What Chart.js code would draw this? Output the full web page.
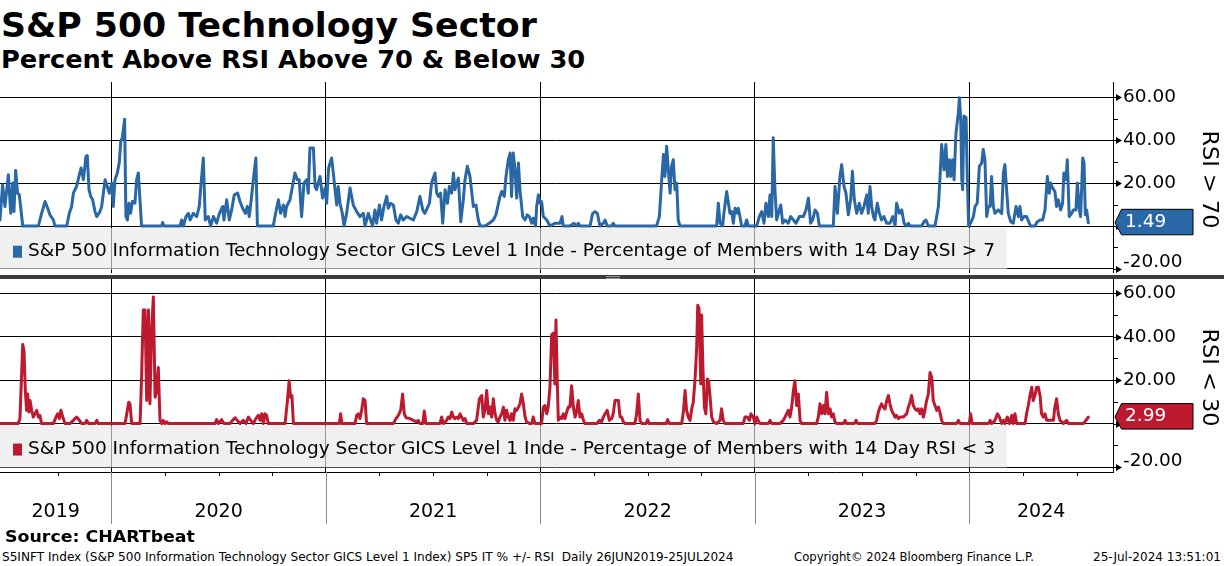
<!DOCTYPE html>
<html>
<head>
<meta charset="utf-8">
<script src="https://cdn.jsdelivr.net/npm/chart.js@4.4.1/dist/chart.umd.min.js"></script>
<style>
  html, body { margin: 0; padding: 0; background: #fff; }
  body { width: 1224px; height: 566px; position: relative; overflow: hidden; font-family: "DejaVu Sans", sans-serif; color: #000; }
  .txt { position: absolute; white-space: pre; transform-origin: 0 0; line-height: 1; }
  canvas { position: absolute; left: 0; }
</style>
</head>
<body>
<div class="txt" data-w="536" style="left:1px; top:8px; font-size:34px; font-weight:bold;">S&amp;P 500 Technology Sector</div>
<div class="txt" data-w="584" style="left:1px; top:47px; font-size:25px; font-weight:bold;">Percent Above RSI Above 70 &amp; Below 30</div>

<canvas id="topChart" width="1224" height="191" style="top:82px"></canvas>
<div style="position:absolute; left:0; top:275px; width:1224px; height:4px; background:#3c3c3c;"></div>
<div style="position:absolute; left:606px; top:276px; width:14px; height:1px; background:#9a9a9a;"></div>
<div style="position:absolute; left:606px; top:278px; width:14px; height:1px; background:#9a9a9a;"></div>
<canvas id="bottomChart" width="1224" height="250" style="top:279px"></canvas>

<div class="txt" data-w="190" style="left:5px; top:529px; font-size:16px; font-weight:bold;">Source: CHARTbeat</div>
<div class="txt" data-w="731" style="left:2px; top:552px; font-size:11.5px;">S5INFT Index (S&amp;P 500 Information Technology Sector GICS Level 1 Index) SP5 IT % +/- RSI  Daily 26JUN2019-25JUL2024</div>
<div class="txt" data-w="240" style="left:794px; top:552px; font-size:11.5px;">Copyright© 2024 Bloomberg Finance L.P.</div>
<div class="txt" data-w="128" style="left:1093px; top:552px; font-size:11.5px;">25-Jul-2024 13:51:01</div>

<script>
// % of members with 14 day RSI > 70, [decimal year, percent]
const rsiAbove70 = [
  [2019.481,2.8],[2019.493,19.2],[2019.504,9.1],[2019.520,23.9],[2019.531,5.9],[2019.540,20.0],[2019.546,6.7],[2019.554,25.9],
  [2019.563,15.3],[2019.571,14.5],[2019.577,9.1],[2019.587,0],[2019.660,0],[2019.675,5.9],[2019.691,11.4],[2019.706,7.5],
  [2019.714,5.2],[2019.730,2.8],[2019.737,0],[2019.792,0],[2019.804,5.9],[2019.815,9.1],[2019.823,15.3],[2019.838,18.4],
  [2019.851,23.9],[2019.859,27.0],[2019.870,21.6],[2019.882,32.5],[2019.888,32.8],[2019.896,16.9],[2019.904,13.8],[2019.913,12.2],
  [2019.924,6.7],[2019.932,4.4],[2019.947,6.7],[2019.955,9.1],[2019.971,21.6],[2019.981,18.4],[2019.991,15.3],[2020.002,20.0],
  [2020.009,9.1],[2020.017,21.6],[2020.028,24.7],[2020.037,29.4],[2020.044,39.5],[2020.051,41.1],[2020.062,49.7],[2020.068,4.4],
  [2020.075,2.8],[2020.082,10.6],[2020.090,5.9],[2020.098,11.4],[2020.110,10.6],[2020.118,21.6],[2020.126,24.7],[2020.141,0],
  [2020.235,0],[2020.239,1.6],[2020.246,0],[2020.320,0],[2020.328,2.8],[2020.336,0],[2020.348,4.4],[2020.359,5.9],
  [2020.367,2.8],[2020.382,5.9],[2020.398,4.4],[2020.410,9.1],[2020.417,18.4],[2020.429,31.7],[2020.438,2.8],[2020.452,4.4],
  [2020.463,0],[2020.476,4.4],[2020.491,1.3],[2020.504,5.9],[2020.519,9.1],[2020.525,2.8],[2020.538,12.2],[2020.550,2.8],
  [2020.561,7.5],[2020.573,14.5],[2020.589,15.3],[2020.600,11.4],[2020.612,8.3],[2020.625,5.9],[2020.634,9.1],[2020.643,4.4],
  [2020.654,13.8],[2020.662,21.6],[2020.674,31.7],[2020.681,0],[2020.755,0],[2020.763,4.4],[2020.779,12.2],[2020.789,5.9],
  [2020.802,9.8],[2020.810,4.4],[2020.817,9.1],[2020.833,12.2],[2020.856,24.7],[2020.867,21.6],[2020.876,21.6],[2020.887,4.4],
  [2020.898,20.0],[2020.911,21.6],[2020.918,15.3],[2020.926,36.4],[2020.942,36.4],[2020.950,18.4],[2020.957,16.9],[2020.973,23.1],
  [2020.985,13.0],[2020.996,17.7],[2021.004,10.6],[2021.013,27.0],[2021.027,31.7],[2021.035,24.7],[2021.043,16.9],[2021.051,9.8],
  [2021.058,18.4],[2021.066,10.6],[2021.077,5.9],[2021.085,0],[2021.097,5.9],[2021.113,17.7],[2021.128,9.8],[2021.144,6.7],
  [2021.159,4.4],[2021.175,5.9],[2021.183,0],[2021.198,5.9],
  [2021.218,0],[2021.229,7.5],[2021.237,1.3],[2021.250,9.8],[2021.260,2.8],[2021.271,9.1],[2021.284,13.8],[2021.291,8.3],
  [2021.302,10.6],[2021.315,9.8],[2021.327,2.8],[2021.338,1.3],[2021.349,5.2],[2021.361,2.8],[2021.377,4.4],[2021.392,3.6],
  [2021.408,2.8],[2021.424,6.7],[2021.439,13.8],[2021.452,7.5],[2021.462,5.9],[2021.483,10.6],[2021.493,20.0],[2021.509,24.7],
  [2021.517,15.3],[2021.525,13.8],[2021.535,15.3],[2021.545,1.3],[2021.556,16.9],[2021.567,10.6],[2021.576,18.4],[2021.587,15.3],
  [2021.595,24.7],[2021.602,16.9],[2021.618,22.3],[2021.629,2.0],[2021.641,12.2],[2021.649,21.6],[2021.660,27.8],[2021.672,23.1],
  [2021.688,9.1],[2021.700,9.8],[2021.711,2.8],[2021.719,0],[2021.742,0],[2021.762,1.3],[2021.781,2.8],[2021.793,5.2],
  [2021.812,13.8],[2021.820,16.1],[2021.832,13.8],[2021.840,23.1],[2021.851,30.9],[2021.859,34.0],[2021.866,13.8],[2021.874,34.0],
  [2021.882,26.2],[2021.890,13.0],[2021.898,29.4],[2021.905,16.9],[2021.918,4.4],[2021.929,2.8],[2021.939,5.2],[2021.949,4.4],
  [2021.960,1.3],[2021.967,3.6],[2021.978,0],[2021.983,9.1],[2021.991,14.5],[2021.999,10.6],[2022.006,11.4],[2022.014,4.4],
  [2022.030,2.8],[2022.045,0],[2022.068,1.3],[2022.092,1.3],[2022.101,4.4],[2022.107,0],[2022.138,0],[2022.157,1.3],
  [2022.169,0],[2022.177,1.3],[2022.185,0],[2022.232,0],[2022.244,5.9],[2022.255,6.7],[2022.266,5.9],[2022.278,0],
  [2022.294,1.3],[2022.302,2.8],[2022.312,0],[2022.333,0],[2022.340,1.3],[2022.348,0],[2022.542,0],[2022.555,4.4],
  [2022.566,21.6],[2022.574,33.3],[2022.581,23.1],[2022.589,37.2],[2022.597,26.2],[2022.605,15.3],[2022.612,27.8],[2022.620,30.9],
  [2022.628,16.9],[2022.636,20.0],[2022.643,2.8],[2022.651,0],[2022.822,0],[2022.830,10.6],[2022.838,1.3],[2022.850,0],
  [2022.856,5.9],[2022.869,16.1],[2022.877,10.6],[2022.884,5.9],[2022.892,6.7],[2022.900,1.3],[2022.908,8.3],[2022.915,5.9],
  [2022.923,8.3],
  [2022.939,0],[2022.954,0],[2022.962,2.8],[2022.970,0],[2023.009,0],[2023.021,4.4],[2023.032,6.7],[2023.043,1.3],
  [2023.052,10.6],[2023.063,4.4],[2023.071,14.5],[2023.079,4.4],[2023.086,41.1],[2023.094,16.9],[2023.102,2.8],[2023.110,5.9],
  [2023.121,9.8],[2023.130,1.3],[2023.141,2.8],[2023.156,1.3],[2023.167,4.4],[2023.180,2.8],[2023.192,1.3],[2023.208,4.4],
  [2023.226,4.4],[2023.239,7.5],[2023.250,13.0],[2023.260,1.3],[2023.270,2.8],[2023.281,7.5],[2023.292,5.9],[2023.301,0],
  [2023.366,0],[2023.374,18.4],[2023.385,5.9],[2023.397,23.1],[2023.405,28.6],[2023.416,18.4],[2023.425,15.3],[2023.436,5.2],
  [2023.447,12.2],[2023.455,25.5],[2023.464,12.2],[2023.475,5.9],[2023.487,10.6],[2023.498,5.9],[2023.509,9.1],[2023.522,14.5],
  [2023.529,5.9],[2023.537,18.4],[2023.545,9.1],[2023.553,4.4],[2023.560,2.8],[2023.571,10.6],[2023.581,5.9],[2023.591,2.8],
  [2023.602,4.4],[2023.615,1.3],[2023.630,1.3],[2023.643,4.4],[2023.654,0],[2023.661,10.6],[2023.674,5.9],[2023.685,7.5],
  [2023.696,1.3],[2023.708,0],[2023.716,1.3],[2023.724,0],[2023.778,0],[2023.789,2.0],[2023.798,2.8],[2023.809,0],
  [2023.840,0],[2023.848,4.4],[2023.856,9.1],[2023.863,21.6],[2023.871,38.0],[2023.882,26.2],[2023.891,38.0],[2023.898,23.1],
  [2023.907,30.9],[2023.913,23.1],[2023.922,30.9],[2023.929,21.6],[2023.938,43.4],[2023.949,52.8],[2023.954,59.8],[2023.960,49.7],
  [2023.965,21.6],[2023.969,16.9],[2023.975,51.3],[2023.985,50.5],[2023.991,21.6],[2023.997,0],[2024.006,1.3],[2024.019,4.4],
  [2024.027,9.1],[2024.037,10.6],[2024.047,27.8],[2024.058,29.4],[2024.065,35.6],[2024.073,30.9],[2024.081,4.4],[2024.089,9.1],
  [2024.097,9.1],[2024.104,23.1],[2024.112,9.1],[2024.120,5.9],[2024.135,7.5],[2024.151,5.9],[2024.159,24.7],[2024.166,28.6],
  [2024.174,16.9],[2024.182,5.9],[2024.193,2.0],[2024.205,1.3],[2024.218,9.1],[2024.229,4.4],[2024.236,9.1],[2024.244,2.8],
  [2024.255,4.4],[2024.267,4.4],[2024.280,1.3],[2024.286,0],[2024.306,0],[2024.317,2.0],[2024.330,2.8],[2024.342,2.8],
  [2024.353,7.5],[2024.364,23.1],[2024.373,15.3],[2024.379,20.0],[2024.389,17.7],[2024.399,16.1],[2024.407,9.1],[2024.415,12.2],
  [2024.426,7.5],[2024.435,10.6],[2024.441,24.7],[2024.451,21.6],[2024.457,30.9],[2024.466,4.4],[2024.477,5.9],[2024.485,7.5],
  [2024.497,7.5],[2024.504,20.0],[2024.513,7.5],[2024.519,4.4],[2024.529,31.7],[2024.535,29.4],[2024.541,5.2],[2024.547,7.5],
  [2024.555,1.49]
];

// % of members with 14 day RSI < 30, [decimal year, percent]
const rsiBelow30 = [
  [2019.481,0],[2019.566,0],[2019.574,2.3],[2019.587,36.4],[2019.593,33.3],[2019.599,15.2],[2019.605,6.1],[2019.610,13.6],
  [2019.616,5.3],[2019.621,10.6],[2019.629,6.1],[2019.636,3.0],[2019.644,4.5],[2019.652,6.1],[2019.660,3.0],[2019.667,3.8],
  [2019.675,0],[2019.730,0],[2019.742,3.0],[2019.750,4.5],[2019.758,2.3],[2019.765,6.1],[2019.776,2.3],[2019.784,0],
  [2019.807,0],[2019.823,1.5],[2019.838,3.0],[2019.851,1.5],[2019.862,0],[2019.877,0],[2019.885,1.5],[2019.893,0],
  [2019.924,0],[2019.932,1.5],[2019.939,0],[2020.064,0],[2020.072,4.5],[2020.081,9.8],[2020.087,9.1],[2020.095,0],
  [2020.134,0],[2020.141,21.2],[2020.149,52.3],[2020.157,52.3],[2020.165,10.6],[2020.173,52.3],[2020.180,9.1],[2020.188,43.9],
  [2020.196,58.3],[2020.204,12.1],[2020.211,15.2],[2020.219,25.8],[2020.227,1.5],[2020.235,0],[2020.242,1.5],[2020.250,0],
  [2020.258,0.8],[2020.266,0],[2020.483,0],[2020.491,1.8],[2020.499,0],[2020.514,1.8],[2020.525,0],[2020.553,0],
  [2020.566,1.5],[2020.577,2.7],[2020.587,1.5],[2020.600,0],[2020.615,1.5],[2020.628,0],[2020.639,3.0],[2020.650,1.5],
  [2020.662,0],[2020.674,2.3],[2020.685,3.8],[2020.693,1.5],[2020.701,4.5],[2020.709,0],[2020.716,4.5],[2020.724,3.8],
  [2020.732,0],[2020.810,0],[2020.821,10.6],[2020.829,19.7],[2020.836,12.1],[2020.842,12.9],[2020.849,0],[2021.063,0],
  [2021.069,4.5],[2021.075,0],[2021.136,0],[2021.144,3.8],[2021.152,4.5],[2021.159,2.3],[2021.167,6.1],[2021.175,11.4],
  [2021.183,10.6],[2021.190,0],
  [2021.315,0],[2021.327,2.3],[2021.338,3.8],[2021.349,6.1],[2021.358,13.6],[2021.366,4.5],[2021.374,2.7],[2021.392,2.3],
  [2021.408,1.5],[2021.424,0.8],[2021.431,1.5],[2021.439,0],[2021.452,0],[2021.459,5.8],[2021.467,0],[2021.532,0],
  [2021.540,3.0],[2021.548,0],[2021.563,1.5],[2021.571,3.0],[2021.579,2.3],[2021.587,5.3],[2021.595,3.0],[2021.602,2.3],
  [2021.610,3.0],[2021.618,2.3],[2021.626,4.5],[2021.633,3.0],[2021.641,1.5],[2021.649,2.3],[2021.657,0],[2021.688,0],
  [2021.703,1.5],[2021.716,11.4],[2021.727,12.9],[2021.734,3.0],[2021.742,6.1],[2021.750,15.2],[2021.758,4.5],[2021.765,7.6],
  [2021.773,3.0],[2021.781,11.4],[2021.789,4.5],[2021.797,1.5],[2021.804,0.8],[2021.812,3.0],[2021.820,4.5],[2021.828,7.6],
  [2021.835,1.5],[2021.843,6.1],[2021.851,3.0],[2021.859,1.5],[2021.866,4.5],[2021.874,1.5],[2021.882,6.8],[2021.890,6.1],
  [2021.898,7.6],[2021.905,9.1],[2021.913,13.6],[2021.921,9.1],[2021.929,3.0],[2021.936,0.8],[2021.949,0],[2021.960,0],
  [2021.967,3.0],[2021.975,0],[2022.006,0],[2022.014,7.6],[2022.022,8.3],[2022.030,4.5],[2022.037,7.6],[2022.045,16.7],
  [2022.053,40.9],[2022.061,41.7],[2022.068,18.2],[2022.073,47.7],[2022.079,19.7],[2022.084,1.5],[2022.092,3.0],[2022.100,2.3],
  [2022.107,4.5],[2022.115,2.3],[2022.123,5.3],[2022.131,7.6],[2022.138,7.6],[2022.146,17.4],[2022.154,7.6],[2022.162,3.0],
  [2022.169,5.3],[2022.177,10.6],[2022.185,3.0],[2022.193,4.5],[2022.201,1.5],[2022.208,0],[2022.263,0],[2022.275,1.5],
  [2022.286,0.8],[2022.294,3.0],[2022.302,4.5],[2022.312,6.1],[2022.322,1.5],[2022.333,2.3],[2022.340,4.5],[2022.348,10.6],
  [2022.356,10.6],[2022.364,10.6],[2022.372,3.0],[2022.379,3.0],[2022.387,0.8],[2022.395,0],[2022.441,0],[2022.449,4.5],
  [2022.457,13.6],[2022.465,1.5],[2022.473,0],[2022.493,0],[2022.500,1.8],[2022.508,0],[2022.586,0],[2022.594,1.8],
  [2022.601,0],[2022.659,0],[2022.667,5.3],[2022.675,15.2],[2022.682,6.1],[2022.690,3.0],[2022.698,1.5],[2022.706,6.8],
  [2022.713,9.8],[2022.721,19.7],[2022.729,34.8],[2022.734,54.5],[2022.740,53.0],[2022.748,18.2],[2022.752,50.0],[2022.758,25.8],
  [2022.765,7.6],[2022.772,4.5],[2022.779,20.5],[2022.785,19.7],[2022.791,12.9],[2022.799,3.0],[2022.807,0.8],[2022.822,0],
  [2022.838,1.5],[2022.845,6.8],[2022.853,1.5],[2022.861,0],[2022.946,0],
  [2022.954,3.0],[2022.965,3.0],[2022.975,1.5],[2022.982,4.5],[2022.993,3.0],[2023.001,0],[2023.009,3.0],[2023.016,1.5],
  [2023.024,0],[2023.063,0],[2023.071,1.5],[2023.079,0],[2023.117,0],[2023.133,1.5],[2023.149,4.5],[2023.156,6.1],
  [2023.164,3.0],[2023.172,7.6],[2023.180,15.2],[2023.187,19.7],[2023.195,8.3],[2023.203,13.6],[2023.211,1.5],[2023.218,0],
  [2023.288,0],[2023.296,3.0],[2023.304,9.1],[2023.312,4.5],[2023.320,8.3],[2023.327,4.5],[2023.335,14.4],[2023.343,4.5],
  [2023.351,6.8],[2023.358,3.0],[2023.366,4.5],[2023.374,0.8],[2023.382,0],[2023.413,0],[2023.421,1.5],[2023.428,0],
  [2023.464,0],[2023.472,1.5],[2023.480,0],[2023.560,0],[2023.568,1.5],[2023.576,5.3],[2023.584,7.6],[2023.591,9.1],
  [2023.599,7.6],[2023.607,6.8],[2023.615,10.6],[2023.623,12.9],[2023.630,9.1],[2023.638,6.1],[2023.646,4.5],[2023.654,3.0],
  [2023.661,3.8],[2023.669,2.3],[2023.677,3.0],[2023.692,3.0],[2023.700,3.8],[2023.708,4.5],[2023.716,7.6],[2023.724,9.8],
  [2023.731,12.9],[2023.739,8.3],[2023.747,6.8],[2023.755,6.1],[2023.762,6.8],[2023.770,4.5],[2023.778,6.8],[2023.786,3.0],
  [2023.793,6.1],[2023.801,10.6],[2023.809,13.6],[2023.817,23.5],[2023.825,21.2],[2023.832,10.6],[2023.840,8.3],[2023.848,6.1],
  [2023.856,7.6],[2023.863,5.3],[2023.871,1.5],[2023.879,0],[2023.941,0],[2023.949,1.5],[2023.957,0],[2024.000,0],
  [2024.006,4.5],[2024.013,0],[2024.089,0],[2024.097,1.5],[2024.104,0],[2024.120,1.5],[2024.131,4.5],[2024.140,3.0],
  [2024.151,0],[2024.159,1.5],[2024.166,0],[2024.177,3.0],[2024.187,0],[2024.198,3.8],[2024.205,0],[2024.213,4.5],
  [2024.221,0],[2024.260,0],[2024.267,4.5],[2024.275,8.3],[2024.283,12.9],[2024.291,16.7],[2024.298,10.6],[2024.306,12.9],
  [2024.314,16.7],[2024.322,16.7],[2024.330,12.9],[2024.337,4.5],[2024.345,3.0],[2024.353,4.5],[2024.361,1.5],[2024.392,1.5],
  [2024.399,7.6],[2024.407,11.4],[2024.415,4.5],[2024.423,1.5],[2024.431,0.8],[2024.438,0],[2024.446,0.8],[2024.454,1.5],
  [2024.462,0],[2024.532,0],[2024.544,1.5],[2024.555,2.99]
];

const yearLabels = ["2019", "2020", "2021", "2022", "2023", "2024"];
const yearBounds = [2020, 2021, 2022, 2023, 2024];
const yTickValues = [-20, -10, 0, 10, 20, 30, 40, 50, 60];
const lastValues = { above: 1.49, below: 2.99 };

const X_MIN = 2019.481;
const X_MAX = 2024.67;
const BLUE = "#2a67a5";
const RED = "#bd1a30";

// label sits in the middle of each (clipped) calendar year
const edges = [X_MIN, ...yearBounds, X_MAX];
const labelPositions = yearLabels.map((_, i) => (edges[i] + edges[i + 1]) / 2);
const yearLabelAt = new Map(labelPositions.map((p, i) => [p, yearLabels[i]]));

const quarterTicks = [];
for (let yr = 2019; yr <= 2024; yr++) {
  [0.25, 0.5, 0.75].forEach((q) => {
    if (yr + q > X_MIN + 0.1 && yr + q < X_MAX) quarterTicks.push(yr + q);
  });
}

function fitText(ctx, text, x, y, width) {
  const w = ctx.measureText(text).width;
  ctx.save();
  ctx.translate(x, y);
  ctx.scale(width / w, 1);
  ctx.fillText(text, 0, 0);
  ctx.restore();
}

function panelDecor(cfg) {
  return {
    id: "panelDecor",
    afterDatasetsDraw(chart) {
      const { ctx } = chart;
      const y = chart.scales.y;
      const top = y.getPixelForValue(0) + 2;
      const bottom = y.getPixelForValue(-20) + 0.5;
      const cy = (top + bottom) / 2 + 3;

      ctx.save();
      ctx.fillStyle = "rgba(232, 232, 232, 0.65)";
      ctx.fillRect(0, top, 1007, bottom - top);
      ctx.fillStyle = cfg.color;
      ctx.fillRect(13, cy - 6, 9, 12);
      ctx.fillStyle = "#000";
      ctx.font = '17.5px "DejaVu Sans"';
      ctx.textBaseline = "middle";
      fitText(ctx, cfg.legend, 28, cy, 967);
      ctx.restore();
    },
    afterDraw(chart) {
      const { ctx, chartArea: a } = chart;
      const y = chart.scales.y;
      ctx.save();
      ctx.strokeStyle = "#000";
      ctx.fillStyle = "#000";
      ctx.lineWidth = 1;

      // right axis ticks, majors get a little arrow head
      yTickValues.forEach((v) => {
        const py = Math.round(y.getPixelForValue(v)) + 0.5;
        const major = v % 20 === 0;
        ctx.beginPath();
        ctx.moveTo(a.right, py);
        ctx.lineTo(a.right + (major ? 5 : 5), py);
        ctx.stroke();
        if (major) {
          ctx.beginPath();
          ctx.moveTo(a.right + 9, py);
          ctx.lineTo(a.right + 3, py - 3.5);
          ctx.lineTo(a.right + 3, py + 3.5);
          ctx.closePath();
          ctx.fill();
        }
      });

      ctx.font = '18.5px "DejaVu Sans"';
      ctx.textAlign = "left";
      ctx.textBaseline = "middle";
      yTickValues.filter((v) => v % 20 === 0).forEach((v) => {
        let py = y.getPixelForValue(v);
        py = Math.max(a.top + 11, Math.min(a.bottom - 11, py));
        ctx.fillText(v.toFixed(2), a.right + 10, py);
      });

      // last value tag
      const tv = y.getPixelForValue(cfg.last);
      ctx.beginPath();
      ctx.moveTo(a.right + 2, tv);
      ctx.lineTo(a.right + 8.5, tv - 13.5);
      ctx.lineTo(a.right + 80, tv - 13.5);
      ctx.lineTo(a.right + 80, tv + 12);
      ctx.lineTo(a.right + 8.5, tv + 12);
      ctx.closePath();
      ctx.fillStyle = cfg.color;
      ctx.fill();
      ctx.stroke();
      ctx.fillStyle = "#fff";
      ctx.fillText(cfg.last.toFixed(2), a.right + 12, tv - 0.5);

      // rotated axis title
      ctx.fillStyle = "#000";
      ctx.font = '22px "DejaVu Sans"';
      ctx.translate(1209, (a.top + a.bottom) / 2 + 2);
      ctx.rotate(Math.PI / 2);
      ctx.textAlign = "left";
      const tw = 98;
      fitText(ctx, cfg.title, -tw / 2, 0, tw);
      ctx.setTransform(1, 0, 0, 1, 0, 0);

      if (cfg.showYears) {
        const x = chart.scales.x;
        ctx.strokeStyle = "#000";
        quarterTicks.forEach((q) => {
          const px = Math.round(x.getPixelForValue(q)) + 0.5;
          ctx.beginPath();
          ctx.moveTo(px, a.bottom);
          ctx.lineTo(px, a.bottom + 4);
          ctx.stroke();
        });
        ctx.strokeStyle = "#8c8c8c";
        yearBounds.forEach((b) => {
          const px = Math.round(x.getPixelForValue(b)) + 0.5;
          ctx.beginPath();
          ctx.moveTo(px, a.bottom);
          ctx.lineTo(px, a.bottom + 52);
          ctx.stroke();
        });
      }
      ctx.restore();
    },
  };
}

function makeChart(id, cfg) {
  return new Chart(document.getElementById(id), {
    type: "line",
    data: {
      datasets: [{
        data: cfg.points.map(([x, y]) => ({ x, y })),
        borderColor: cfg.color,
        borderWidth: 3,
        pointRadius: 0,
        tension: 0,
        borderJoinStyle: "round",
        borderCapStyle: "round",
      }],
    },
    options: {
      responsive: false,
      animation: false,
      devicePixelRatio: 1,
      layout: { padding: 0 },
      plugins: { legend: { display: false }, tooltip: { enabled: false } },
      scales: {
        x: {
          type: "linear",
          min: X_MIN,
          max: X_MAX,
          afterBuildTicks: (s) => {
            const vals = cfg.showYears ? [...yearBounds, ...labelPositions] : yearBounds;
            s.ticks = vals.map((v) => ({ value: v }));
          },
          afterFit: (s) => { s.height = cfg.showYears ? 57 : 0; },
          grid: {
            color: (c) => (Number.isInteger(c.tick.value) ? "#000" : "rgba(0,0,0,0)"),
            lineWidth: 1,
            drawTicks: false,
          },
          border: { display: cfg.showYears, color: "#000", width: 1 },
          ticks: {
            display: cfg.showYears,
            autoSkip: false,
            maxRotation: 0,
            padding: 29,
            color: "#000",
            font: { family: "DejaVu Sans", size: 19 },
            callback: (v) => yearLabelAt.get(v) ?? "",
          },
        },
        y: {
          position: "right",
          min: cfg.yMin,
          max: cfg.yMax,
          afterBuildTicks: (s) => { s.ticks = yTickValues.map((v) => ({ value: v })); },
          afterFit: (s) => { s.width = 111; },
          grid: {
            color: (c) => (c.tick.value % 20 === 0 ? "#000" : "rgba(0,0,0,0)"),
            lineWidth: 1,
            drawTicks: false,
          },
          border: { display: true, color: "#000", width: 1 },
          ticks: { display: false },
        },
      },
    },
    plugins: [panelDecor(cfg)],
  });
}

makeChart("topChart", {
  points: rsiAbove70,
  color: BLUE,
  yMin: -21.9,
  yMax: 67.1,
  last: lastValues.above,
  title: "RSI > 70",
  legend: "S&P 500 Information Technology Sector GICS Level 1 Inde - Percentage of Members with 14 Day RSI > 7",
  showYears: false,
});

makeChart("bottomChart", {
  points: rsiBelow30,
  color: RED,
  yMin: -22.3,
  yMax: 66.6,
  last: lastValues.below,
  title: "RSI < 30",
  legend: "S&P 500 Information Technology Sector GICS Level 1 Inde - Percentage of Members with 14 Day RSI < 3",
  showYears: true,
});

document.querySelectorAll(".txt").forEach((el) => {
  const w = Number(el.dataset.w);
  el.style.transform = `scaleX(${w / el.offsetWidth})`;
});
</script>
</body>
</html>
